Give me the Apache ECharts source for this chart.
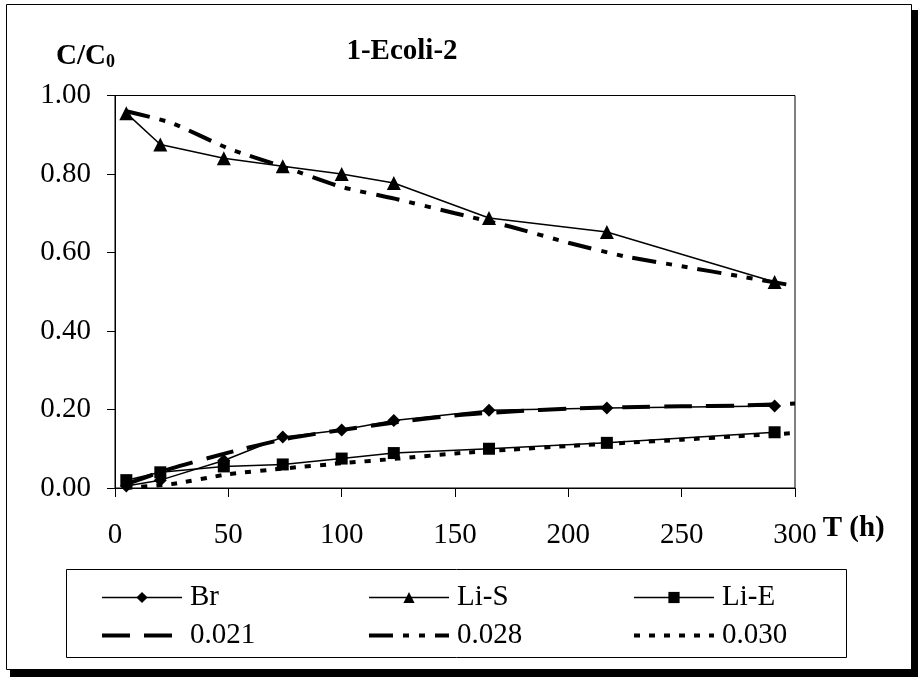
<!DOCTYPE html>
<html>
<head>
<meta charset="utf-8">
<script src="https://cdn.jsdelivr.net/npm/echarts@6/dist/echarts.min.js"></script>
<style>
html,body{margin:0;padding:0;background:#fff;}
#chart{width:918px;height:682px;}
</style>
</head>
<body>
<div id="chart"></div>
<script>
// ---- data ----
var times = [5, 20, 48, 74, 100, 123, 165, 217, 291];
var br = [0.005, 0.02, 0.07, 0.13, 0.148, 0.172, 0.198, 0.204, 0.209];
var liS = [0.955, 0.875, 0.84, 0.82, 0.80, 0.777, 0.688, 0.652, 0.525];
var liE = [0.02, 0.04, 0.055, 0.06, 0.075, 0.089, 0.10, 0.115, 0.142];

var fitTimes = [5, 25, 50, 75, 100, 125, 150, 175, 200, 225, 250, 275, 300];
var fit021 = [0.01, 0.05, 0.09, 0.125, 0.148, 0.168, 0.185, 0.195, 0.202, 0.206, 0.208, 0.21, 0.215];
var fit028 = [0.96, 0.93, 0.865, 0.817, 0.767, 0.735, 0.70, 0.665, 0.625, 0.59, 0.565, 0.54, 0.515];
var fit030 = [0.0, 0.01, 0.035, 0.05, 0.063, 0.075, 0.088, 0.098, 0.107, 0.115, 0.123, 0.132, 0.14];

var xTicks = [0, 50, 100, 150, 200, 250, 300];
var yTicks = [0, 0.2, 0.4, 0.6, 0.8, 1.0];

var seriesNames = ['Br', 'Li-S', 'Li-E', '0.021', '0.028', '0.030'];
var titleText = '1-Ecoli-2';

function pairs(xs, ys) { return xs.map(function (x, i) { return [x, ys[i]]; }); }

var FONT = "'Liberation Serif','Times New Roman',serif";

var chart = echarts.init(document.getElementById('chart'), null, {renderer: 'canvas'});

function dataSeries(name, ys, symbol, size) {
  return {
    name: name, type: 'line', data: pairs(times, ys),
    symbol: symbol, symbolSize: size, showSymbol: true,
    lineStyle: {color: '#000', width: 1.5},
    itemStyle: {color: '#000'},
    z: 3, animation: false
  };
}
function fitSeries(name, ys, dash) {
  return {
    name: name, type: 'line', data: pairs(fitTimes, ys),
    symbol: 'none', smooth: 0.2,
    lineStyle: {color: '#000', width: 4, type: dash},
    itemStyle: {color: '#000'},
    z: 2, animation: false
  };
}

var legendCommon = {
  orient: 'vertical', itemWidth: 80, itemHeight: 14, itemGap: 9, padding: 0,
  textStyle: {fontFamily: FONT, fontSize: 29, color: '#000', padding: [0, 0, 0, 3]},
  inactiveColor: '#000'
};
function dataLegend(name) { return {name: name, lineStyle: {width: 1.5}}; }
function fitLegend(name) { return {name: name, itemStyle: {opacity: 0}, lineStyle: {width: 4}}; }

var option = {
  backgroundColor: '#fff',
  animation: false,
  title: {
    text: titleText, left: 397, top: 32, textAlign: 'center',
    textStyle: {fontFamily: FONT, fontSize: 29, fontWeight: 'bold', color: '#000'}
  },
  grid: {left: 115, right: 123, top: 95.5, bottom: 194, show: true, borderColor: '#000', borderWidth: 1, containLabel: false},
  xAxis: {
    type: 'value', min: 0, max: 300, interval: 50,
    name: 'T (h)', nameLocation: 'end', nameGap: 22,
    nameTextStyle: {fontFamily: FONT, fontSize: 29, fontWeight: 'bold', color: '#000', verticalAlign: 'top', align: 'left', padding: [26, 0, 0, 0]},
    axisLine: {show: true, lineStyle: {color: '#000', width: 1}},
    axisTick: {show: true, inside: false, length: 9, lineStyle: {color: '#000'}},
    axisLabel: {fontFamily: FONT, fontSize: 29, color: '#000', margin: 33,
      formatter: function (v) { return xTicks.indexOf(v) >= 0 ? String(v) : ''; }},
    splitLine: {show: false}
  },
  yAxis: {
    type: 'value', min: 0, max: 1, interval: 0.2,
    name: 'C/C{s|0}', nameLocation: 'end', nameGap: 24,
    nameTextStyle: {fontFamily: FONT, fontSize: 29, fontWeight: 'bold', color: '#000', align: 'right',
      rich: {s: {fontFamily: FONT, fontSize: 18, fontWeight: 'bold', color: '#000', verticalAlign: 'bottom', padding: [12, 0, 0, 0]}}},
    axisLine: {show: true, lineStyle: {color: '#000', width: 1}},
    axisTick: {show: true, inside: false, length: 8, lineStyle: {color: '#000'}},
    axisLabel: {fontFamily: FONT, fontSize: 29, color: '#000', margin: 24,
      formatter: function (v) { return v.toFixed(2); }},
    splitLine: {show: false}
  },
  legend: [
    Object.assign({}, legendCommon, {left: 100, top: 583, data: [dataLegend(seriesNames[0]), fitLegend(seriesNames[3])]}),
    Object.assign({}, legendCommon, {left: 367, top: 583, data: [dataLegend(seriesNames[1]), fitLegend(seriesNames[4])]}),
    Object.assign({}, legendCommon, {left: 632, top: 583, data: [dataLegend(seriesNames[2]), fitLegend(seriesNames[5])]})
  ],
  graphic: [
    {type: 'rect', shape: {x: 6.5, y: 4.5, width: 905, height: 665}, style: {fill: 'none', stroke: '#000', lineWidth: 1}, silent: true, z: -1},
    {type: 'rect', shape: {x: 911, y: 10, width: 7, height: 667}, style: {fill: '#000'}, silent: true},
    {type: 'rect', shape: {x: 10, y: 669, width: 908, height: 8}, style: {fill: '#000'}, silent: true},
    {type: 'rect', shape: {x: 66.5, y: 569.5, width: 780, height: 88}, style: {fill: 'none', stroke: '#000', lineWidth: 1}, silent: true}
  ],
  series: [
    dataSeries(seriesNames[0], br, 'diamond', 13),
    dataSeries(seriesNames[1], liS, 'triangle', 14),
    dataSeries(seriesNames[2], liE, 'rect', 12),
    fitSeries(seriesNames[3], fit021, [28, 14]),
    fitSeries(seriesNames[4], fit028, [24, 10, 6, 10, 6, 10]),
    fitSeries(seriesNames[5], fit030, [6, 9])
  ]
};
chart.setOption(option);
</script>
</body>
</html>
